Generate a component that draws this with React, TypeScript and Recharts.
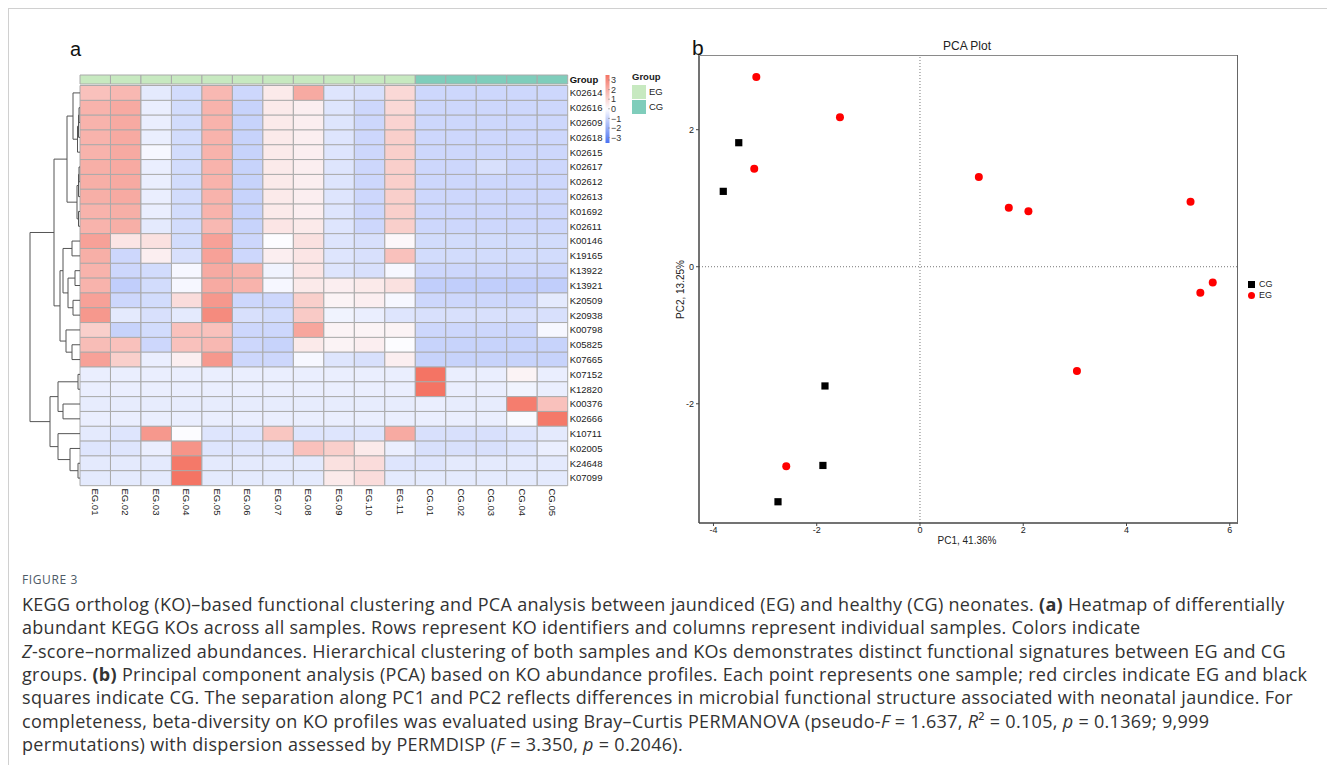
import React from 'react';
import {
  BarChart, Bar, Cell, XAxis, YAxis, ScatterChart, Scatter, ReferenceLine,
} from 'recharts';

// ---- heatmap data ----
const SAMPLES = ['EG.01', 'EG.02', 'EG.03', 'EG.04', 'EG.05', 'EG.06', 'EG.07', 'EG.08', 'EG.09', 'EG.10', 'EG.11', 'CG.01', 'CG.02', 'CG.03', 'CG.04', 'CG.05'];
const SAMPLE_GROUP = ['EG', 'EG', 'EG', 'EG', 'EG', 'EG', 'EG', 'EG', 'EG', 'EG', 'EG', 'CG', 'CG', 'CG', 'CG', 'CG'];
const KO_IDS = ['K02614', 'K02616', 'K02609', 'K02618', 'K02615', 'K02617', 'K02612', 'K02613', 'K01692', 'K02611', 'K00146', 'K19165', 'K13922', 'K13921', 'K20509', 'K20938', 'K00798', 'K05825', 'K07665', 'K07152', 'K12820', 'K00376', 'K02666', 'K10711', 'K02005', 'K24648', 'K07099'];

// z-scores, one row per KO, columns in SAMPLES order
const Z_SCORES = [
  [1.3, 1.5, -0.4, -0.7, 1.5, -0.8, 0.4, 1.8, -0.5, -0.6, 0.8, -0.8, -0.8, -0.8, -0.8, -0.8],
  [1.6, 1.8, -0.3, -0.7, 1.6, -0.9, 0.4, 0.3, -0.5, -0.8, 0.8, -0.8, -0.8, -0.8, -0.8, -0.8],
  [1.6, 1.8, -0.3, -0.7, 1.6, -0.9, 0.4, 0.3, -0.5, -0.8, 0.9, -0.8, -0.8, -0.8, -0.8, -0.8],
  [1.6, 1.8, -0.3, -0.7, 1.6, -0.9, 0.4, 0.3, -0.5, -0.8, 1.0, -0.8, -0.8, -0.8, -0.8, -0.8],
  [1.6, 1.8, -0.1, -0.7, 1.6, -0.9, 0.4, 0.3, -0.5, -0.8, 1.0, -0.8, -0.8, -0.8, -0.8, -0.8],
  [1.7, 1.8, -0.3, -0.7, 1.6, -0.9, 0.4, 0.3, -0.5, -0.8, 1.0, -0.8, -0.8, -0.6, -0.8, -0.8],
  [1.7, 1.8, -0.3, -0.7, 1.6, -0.9, 0.4, 0.3, -0.5, -0.8, 1.0, -0.8, -0.8, -0.8, -0.8, -0.8],
  [1.7, 1.8, -0.3, -0.7, 1.6, -0.9, 0.4, 0.3, -0.5, -0.8, 1.0, -0.8, -0.8, -0.8, -0.8, -0.8],
  [1.6, 1.7, -0.3, -0.7, 1.6, -0.9, 0.4, 0.3, -0.5, -0.8, 1.0, -0.8, -0.8, -0.8, -0.8, -0.8],
  [1.6, 1.7, -0.4, -0.7, 1.5, -0.9, 0.5, 0.4, -0.5, -0.8, 1.0, -0.8, -0.8, -0.8, -0.8, -0.8],
  [2.0, 0.5, 0.6, -0.7, 2.0, -0.8, 0.0, 0.6, -0.5, -0.6, 0.1, -0.7, -0.7, -0.7, -0.7, -0.7],
  [1.7, -0.8, 0.3, -0.6, 2.0, -0.8, 0.3, 0.5, -0.5, -0.6, 1.3, -0.7, -0.7, -0.7, -0.7, -0.7],
  [1.6, -0.8, -0.7, -0.1, 1.8, 1.6, -0.2, 0.5, -0.5, -0.6, -0.1, -0.8, -0.8, -0.8, -0.8, -0.8],
  [1.6, -1.0, -0.7, -0.1, 1.8, 1.6, -0.1, 0.4, 0.3, 0.4, 0.6, -1.0, -1.0, -1.0, -1.0, -1.0],
  [2.0, -0.8, -0.7, 0.7, 2.2, -0.8, -0.8, 1.0, 0.2, 0.3, -0.1, -0.8, -0.8, -0.8, -0.8, -0.4],
  [2.2, -0.4, -0.6, -0.4, 2.5, -0.6, -0.7, 1.1, -0.2, -0.3, -0.5, -0.6, -0.6, -0.6, -0.6, -0.6],
  [1.0, -0.9, -0.7, 1.3, 1.3, -0.8, -0.8, 1.9, 0.2, 0.2, 0.2, -0.8, -0.8, -0.8, -0.8, -0.1],
  [1.4, 1.3, -0.8, 1.3, 1.5, -0.8, -0.9, 0.4, 0.2, 0.3, 0.0, -0.9, -0.9, -0.9, -0.9, -0.9],
  [2.0, 1.0, -0.3, 0.3, 2.2, -0.8, -0.8, -0.1, -0.5, -0.6, 0.3, -0.9, -0.9, -0.9, -0.9, -0.9],
  [-0.3, -0.3, -0.3, -0.3, -0.3, -0.3, -0.3, -0.3, -0.3, -0.3, -0.3, 3.0, -0.3, -0.3, 0.2, -0.3],
  [-0.3, -0.3, -0.3, -0.3, -0.3, -0.3, -0.3, -0.3, -0.3, -0.3, -0.3, 3.0, -0.3, -0.3, -0.2, -0.3],
  [-0.35, -0.35, -0.35, -0.35, -0.35, -0.35, -0.35, -0.35, -0.35, -0.35, -0.35, -0.3, -0.35, -0.35, 2.8, 1.3],
  [-0.3, -0.3, -0.3, -0.3, -0.3, -0.3, -0.3, -0.3, -0.3, -0.3, -0.3, -0.3, -0.3, -0.3, -0.05, 2.9],
  [-0.4, -0.5, 2.2, 0.0, -0.5, -0.5, 1.2, -0.5, -0.5, -0.5, 1.8, -0.6, -0.6, -0.6, -0.5, -0.4],
  [-0.5, -0.5, -0.3, 2.3, -0.5, -0.5, -0.5, 1.3, 1.0, 0.4, -0.3, -0.6, -0.6, -0.6, -0.5, -0.3],
  [-0.4, -0.4, -0.4, 2.9, -0.4, -0.4, -0.4, -0.4, 0.6, 0.7, -0.5, -0.5, -0.4, -0.4, -0.4, -0.4],
  [-0.4, -0.4, -0.4, 3.0, -0.4, -0.4, -0.4, -0.4, 0.4, 0.7, -0.4, -0.4, -0.4, -0.4, -0.4, -0.4],
];

// row dendrogram: leaf = row index, node = [left, right, height]
const TREE_A = [[0, [[[1, 2, 1], 3, 1.5], 4, 2.5], 7], [[[5, 6, 1], 7, 1.5], [8, 9, 1.5], 3], 13];
const TREE_B = [[[10, 11, 8], [[12, 13, 5], [14, 15, 7], 12], 17], [16, [17, 18, 8], 14], 20];
const TREE_C = [[19, 20, 2], [21, 22, 17], 22];
const TREE_D = [23, [24, [25, 26, 2], 10], 22];
const ROW_TREE = [[TREE_A, TREE_B, 26], [TREE_C, TREE_D, 30], 50];

const LEGEND_TICKS = [3, 2, 1, 0, -1, -2, -3];

// ---- PCA data ----
const EG_PC1 = [-3.17, -1.55, -3.21, 1.14, 1.72, 2.10, 5.24, 5.67, 5.43, 3.04, -2.59];
const EG_PC2 = [2.77, 2.18, 1.43, 1.31, 0.86, 0.81, 0.95, -0.23, -0.38, -1.52, -2.91];
const CG_PC1 = [-3.51, -3.81, -1.84, -1.88, -2.75];
const CG_PC2 = [1.81, 1.10, -1.74, -2.90, -3.43];
const PC1_TICKS = [-4, -2, 0, 2, 4, 6];
const PC2_TICKS = [-2, 0, 2];

const FONT = '"Liberation Sans", Arial, Helvetica, sans-serif';
const GROUP_COLORS: Record<string, string> = { EG: '#c7e9c0', CG: '#7fcdbb' };

// heatmap geometry
const HM_LEFT = 80;
const HM_RIGHT = 567.7;
const HM_TOP = 85.5;
const HM_BOTTOM = 485.5;
const ROW_H = (HM_BOTTOM - HM_TOP) / KO_IDS.length;

function zColor(v: number): string {
  const t = Math.min(Math.abs(v) / 3, 1);
  const end = v >= 0 ? [244, 116, 100] : [74, 114, 242];
  const base = [252, 252, 255];
  const c = base.map((b, k) => Math.round(b + (end[k] - b) * t));
  return `rgb(${c.join(',')})`;
}

const heatRows = KO_IDS.map((ko) => {
  const r: any = { ko };
  SAMPLES.forEach((_, j) => { r['c' + j] = 1; });
  return r;
});
const groupRow = [(() => {
  const r: any = { g: 'Group' };
  SAMPLES.forEach((_, j) => { r['c' + j] = 1; });
  return r;
})()];
const colTicks = SAMPLES.map((_, j) => j + 0.5);

function ColTick({ x, y, payload }: any) {
  const idx = Math.floor(payload.value);
  return (
    <text
      transform={`translate(${x},${y}) rotate(90)`}
      textAnchor="start"
      dy="0.35em"
      fontSize={9.5}
      fill="#222"
      fontFamily={FONT}
    >
      {SAMPLES[idx]}
    </text>
  );
}

function Dendrogram() {
  const lines: React.ReactElement[] = [];
  let k = 0;
  const walk = (node: any): { x: number; y: number } => {
    if (typeof node === 'number') {
      return { x: HM_LEFT, y: HM_TOP + (node + 0.5) * ROW_H };
    }
    const a = walk(node[0]);
    const b = walk(node[1]);
    const x = HM_LEFT - node[2];
    lines.push(<line key={k++} x1={x} x2={x} y1={a.y} y2={b.y} />);
    lines.push(<line key={k++} x1={x} x2={a.x} y1={a.y} y2={a.y} />);
    lines.push(<line key={k++} x1={x} x2={b.x} y1={b.y} y2={b.y} />);
    return { x, y: (a.y + b.y) / 2 };
  };
  walk(ROW_TREE);
  return (
    <svg width={HM_LEFT} height={540} style={{ position: 'absolute', left: 0, top: 0 }}>
      <g stroke="#555" strokeWidth={1} fill="none">{lines}</g>
    </svg>
  );
}

function Heatmap() {
  return (
    <>
      <div style={{ position: 'absolute', left: 0, top: 0 }}>
        <BarChart
          width={640}
          height={540}
          data={heatRows}
          layout="vertical"
          barCategoryGap={0}
          margin={{ top: HM_TOP, left: HM_LEFT, right: 640 - HM_RIGHT - 40, bottom: 540 - HM_BOTTOM - 40 }}
        >
          <XAxis
            type="number"
            domain={[0, SAMPLES.length]}
            ticks={colTicks}
            interval={0}
            tick={<ColTick />}
            axisLine={false}
            tickLine={false}
            tickSize={0}
            tickMargin={3}
            height={40}
          />
          <YAxis
            type="category"
            dataKey="ko"
            orientation="right"
            width={40}
            interval={0}
            axisLine={false}
            tickLine={false}
            tickSize={0}
            tickMargin={2}
            tick={{ fontSize: 9.5, fill: '#222', fontFamily: FONT }}
          />
          {SAMPLES.map((s, j) => (
            <Bar key={s} dataKey={'c' + j} stackId="hm" isAnimationActive={false}>
              {KO_IDS.map((ko, i) => (
                <Cell key={ko} fill={zColor(Z_SCORES[i][j])} stroke="#aaaaaa" strokeWidth={1} />
              ))}
            </Bar>
          ))}
        </BarChart>
      </div>
      <div style={{ position: 'absolute', left: 0, top: 0 }}>
        <BarChart
          width={640}
          height={100}
          data={groupRow}
          layout="vertical"
          barCategoryGap={0}
          margin={{ top: 75, left: HM_LEFT, right: 640 - HM_RIGHT - 40, bottom: 16 }}
        >
          <XAxis type="number" domain={[0, SAMPLES.length]} hide />
          <YAxis
            type="category"
            dataKey="g"
            orientation="right"
            width={40}
            axisLine={false}
            tickLine={false}
            tickSize={0}
            tickMargin={2}
            tick={{ fontSize: 9.5, fill: '#111', fontFamily: FONT, fontWeight: 'bold' }}
          />
          {SAMPLES.map((s, j) => (
            <Bar key={s} dataKey={'c' + j} stackId="grp" isAnimationActive={false}>
              <Cell fill={GROUP_COLORS[SAMPLE_GROUP[j]]} stroke="#aaaaaa" strokeWidth={1} />
            </Bar>
          ))}
        </BarChart>
      </div>
      <Dendrogram />
      {/* colour scale legend */}
      <svg width={60} height={90} style={{ position: 'absolute', left: 600, top: 70 }}>
        <defs>
          <linearGradient id="zgrad" x1="0" y1="0" x2="0" y2="1">
            {LEGEND_TICKS.map((v, i) => (
              <stop key={v} offset={`${(i / (LEGEND_TICKS.length - 1)) * 100}%`} stopColor={zColor(v)} />
            ))}
          </linearGradient>
        </defs>
        <rect x={5.5} y={5} width={4} height={68} fill="url(#zgrad)" />
        {LEGEND_TICKS.map((v, i) => {
          const y = 10 + i * 9.6;
          return (
            <g key={v}>
              <line x1={8} x2={10} y1={y} y2={y} stroke="#888" strokeWidth={0.6} />
              <text x={11} y={y} dy="0.35em" fontSize={9} fill="#333" fontFamily={FONT}>
                {v < 0 ? `\u2212${Math.abs(v)}` : v}
              </text>
            </g>
          );
        })}
      </svg>
      {/* group legend */}
      <div style={{ position: 'absolute', left: 632, top: 71, fontFamily: FONT, fontSize: 9.5, color: '#222' }}>
        <div style={{ fontWeight: 'bold', marginBottom: 2 }}>Group</div>
        {['EG', 'CG'].map((g) => (
          <div key={g} style={{ display: 'flex', alignItems: 'center', height: 15 }}>
            <span style={{ display: 'inline-block', width: 14, height: 14, background: GROUP_COLORS[g], marginRight: 3 }} />
            <span>{g}</span>
          </div>
        ))}
      </div>
    </>
  );
}

function circleShape(props: any) {
  return <circle cx={props.cx} cy={props.cy} r={4} fill="#ff0000" />;
}
function squareShape(props: any) {
  return <rect x={props.cx - 3.6} y={props.cy - 3.6} width={7.2} height={7.2} fill="#000" />;
}

const egPoints = EG_PC1.map((x, i) => ({ pc1: x, pc2: EG_PC2[i] }));
const cgPoints = CG_PC1.map((x, i) => ({ pc1: x, pc2: CG_PC2[i] }));
const PC1_DOMAIN = [-4.28, 6.14];
const PC2_DOMAIN = [-3.74, 3.09];

function PcaPlot() {
  const tickStyle = { fontSize: 9, fill: '#222', fontFamily: FONT };
  return (
    <>
      <div style={{ position: 'absolute', left: 640, top: 0 }}>
        <ScatterChart width={695} height={560} margin={{ top: 55, left: 29, right: 98, bottom: 17 }}>
          <XAxis
            type="number"
            dataKey="pc1"
            domain={PC1_DOMAIN}
            ticks={PC1_TICKS}
            allowDataOverflow
            height={20}
            tick={tickStyle}
            tickSize={3}
            tickMargin={1}
            stroke="#444"
            axisLine={{ stroke: '#444', strokeWidth: 1.5 }}
          />
          <YAxis
            type="number"
            dataKey="pc2"
            domain={PC2_DOMAIN}
            ticks={PC2_TICKS}
            allowDataOverflow
            width={30}
            tick={tickStyle}
            tickSize={3}
            tickMargin={2}
            stroke="#444"
            axisLine={{ stroke: '#444', strokeWidth: 1.5 }}
          />
          <ReferenceLine x={0} stroke="#777" strokeDasharray="1 2" />
          <ReferenceLine y={0} stroke="#777" strokeDasharray="1 2" />
          <Scatter name="CG" data={cgPoints} shape={squareShape} isAnimationActive={false} />
          <Scatter name="EG" data={egPoints} shape={circleShape} isAnimationActive={false} />
        </ScatterChart>
      </div>
      {/* panel frame: top and right edges */}
      <div style={{ position: 'absolute', left: 699, top: 54.5, width: 539, height: 1.5, background: '#8a8a8a', zIndex: 3 }} />
      <div style={{ position: 'absolute', left: 1236.5, top: 54.5, width: 1.5, height: 469, background: '#666', zIndex: 3 }} />
      <div style={{ position: 'absolute', left: 867, width: 200, textAlign: 'center', top: 39, fontFamily: FONT, fontSize: 12, color: '#222' }}>
        PCA Plot
      </div>
      <div style={{ position: 'absolute', left: 867, width: 200, textAlign: 'center', top: 535, fontFamily: FONT, fontSize: 10, color: '#222' }}>
        PC1, 41.36%
      </div>
      <div
        style={{
          position: 'absolute', left: 630, width: 100, top: 284, textAlign: 'center',
          fontFamily: FONT, fontSize: 10, color: '#222', transform: 'rotate(-90deg)',
        }}
      >
        PC2, 13.25%
      </div>
      <div style={{ position: 'absolute', left: 1248, top: 279, fontFamily: FONT, fontSize: 9, color: '#222', lineHeight: '11px' }}>
        <div style={{ display: 'flex', alignItems: 'center' }}>
          <span style={{ display: 'inline-block', width: 7, height: 7, background: '#000', marginRight: 4 }} />CG
        </div>
        <div style={{ display: 'flex', alignItems: 'center' }}>
          <span style={{ display: 'inline-block', width: 7, height: 7, borderRadius: '50%', background: '#ff0000', marginRight: 4 }} />EG
        </div>
      </div>
    </>
  );
}

const capStyle: React.CSSProperties = {
  position: 'absolute', left: 22, whiteSpace: 'nowrap', fontFamily: '"Open Sans", "Noto Sans", sans-serif',
  fontSize: 18, letterSpacing: 0.3, color: '#333',
};

function Caption() {
  const lines: React.ReactNode[] = [
    <>KEGG ortholog (KO)–based functional clustering and PCA analysis between jaundiced (EG) and healthy (CG) neonates. <b>(a)</b> Heatmap of differentially</>,
    <>abundant KEGG KOs across all samples. Rows represent KO identifiers and columns represent individual samples. Colors indicate</>,
    <><i>Z</i>-score–normalized abundances. Hierarchical clustering of both samples and KOs demonstrates distinct functional signatures between EG and CG</>,
    <>groups. <b>(b)</b> Principal component analysis (PCA) based on KO abundance profiles. Each point represents one sample; red circles indicate EG and black</>,
    <>squares indicate CG. The separation along PC1 and PC2 reflects differences in microbial functional structure associated with neonatal jaundice. For</>,
    <>completeness, beta-diversity on KO profiles was evaluated using Bray–Curtis PERMANOVA (pseudo-<i>F</i> = 1.637, <i>R</i>² = 0.105, <i>p</i> = 0.1369; 9,999</>,
    <>permutations) with dispersion assessed by PERMDISP (<i>F</i> = 3.350, <i>p</i> = 0.2046).</>,
  ];
  return (
    <>
      <div style={{ position: 'absolute', left: 22, top: 571, fontFamily: '"Open Sans", sans-serif', fontSize: 12, letterSpacing: 0.6, color: '#4d5a66' }}>
        FIGURE 3
      </div>
      {lines.map((l, i) => (
        <div key={i} style={{ ...capStyle, top: 592 + i * 23.3, lineHeight: '25px' }}>{l}</div>
      ))}
    </>
  );
}

export default function App() {
  return (
    <div style={{ position: 'relative', width: 1335, height: 773, margin: -8, background: '#fff', overflow: 'hidden' }}>
      <div style={{ position: 'absolute', left: 8, top: 8, width: 1318, height: 756, border: '1px solid #d0d0d0' }} />
      <div style={{ position: 'absolute', left: 70, top: 38, fontFamily: FONT, fontSize: 20, color: '#111' }}>a</div>
      <div style={{ position: 'absolute', left: 692, top: 36, fontFamily: FONT, fontSize: 21, color: '#111' }}>b</div>
      <Heatmap />
      <PcaPlot />
      <Caption />
    </div>
  );
}
